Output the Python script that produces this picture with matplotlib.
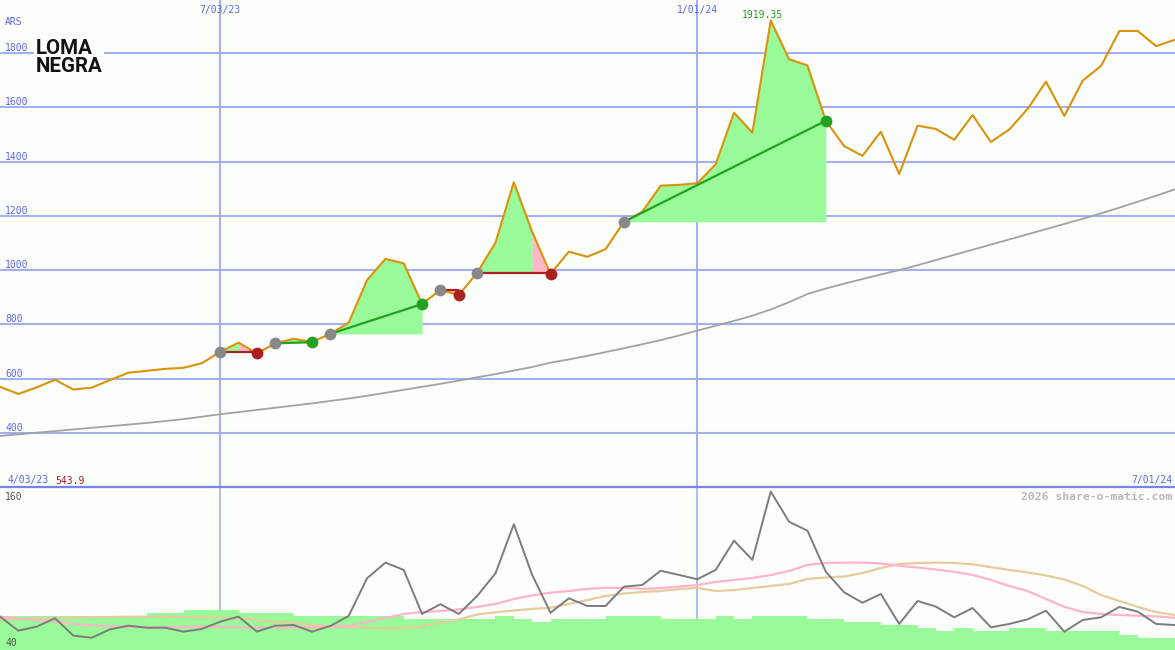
import matplotlib
matplotlib.use('Agg')
import matplotlib.pyplot as plt
import numpy as np
from matplotlib import transforms, font_manager as fm
from matplotlib.patches import Rectangle

# ---------------- data ----------------
start_label = '4/03/23'
end_label = '7/01/24'
date_labels = ['7/03/23', '1/01/24']
date_index = [12, 38]
y_ticks = [400, 600, 800, 1000, 1200, 1400, 1600, 1800]
currency = 'ARS'

price = [570, 543.9, 568, 596, 560, 567, 595, 622, 629, 636, 640, 657, 699, 733, 693,
         730, 747, 735, 765, 806, 963, 1041, 1025, 875, 927, 908, 990, 1101, 1324, 1141,
         986, 1068, 1049, 1077, 1178, 1215, 1311, 1314, 1320, 1390, 1580, 1506, 1919.35,
         1777, 1754, 1550, 1457, 1421, 1510, 1354, 1532, 1520, 1480, 1571, 1472, 1518,
         1594, 1694, 1568, 1698, 1752, 1881, 1881, 1825, 1848]

long_ma = [389, 395, 401, 407, 413, 419, 425, 431, 437, 444, 451, 460, 469, 477, 485,
           493, 501, 509, 518, 527, 537, 548, 559, 570, 581, 593, 605, 617, 630, 643,
           659, 671, 684, 698, 712, 727, 742, 759, 777, 795, 813, 832, 855, 882, 912,
           932, 950, 967, 984, 1000, 1018, 1037, 1056, 1075, 1094, 1113, 1132, 1151,
           1170, 1189, 1209, 1230, 1252, 1274, 1297]

trade_entry = [12, 15, 18, 24, 26, 34]
trade_exit = [14, 17, 23, 25, 30, 45]

# lower panel
rel = [64.7, 54.3, 57.3, 63.5, 50.6, 49.1, 55.3, 58.0, 56.5, 56.5, 53.6, 55.6, 61.0,
       64.7, 53.6, 58.0, 58.5, 53.6, 57.8, 65.2, 93.1, 104.7, 99.3, 66.7, 73.9, 66.7,
       80.0, 96.8, 133.1, 95.6, 67.6, 78.3, 72.6, 72.6, 86.9, 88.1, 98.7, 95.6, 92.4,
       99.3, 121.0, 106.7, 157.3, 135.0, 128.4, 98.0, 82.7, 75.0, 81.5, 59.3, 76.3,
       72.1, 64.2, 71.1, 56.8, 59.3, 62.7, 69.1, 53.6, 62.2, 64.2, 71.9, 68.4, 59.3, 58.5]

rel_fast = [64.7, 63.3, 62.2, 61.0, 59.3, 58.1, 57.6, 57.0, 56.8, 57.0, 57.0, 57.3, 57.0,
            56.7, 56.5, 56.5, 56.5, 56.7, 57.0, 57.8, 60.7, 63.7, 66.7, 68.1, 68.9, 70.0,
            71.9, 74.1, 77.8, 80.4, 82.4, 83.7, 85.2, 86.1, 85.9, 85.2, 85.9, 87.0, 88.1,
            90.4, 91.9, 93.3, 95.6, 98.5, 103.0, 104.4, 104.7, 104.7, 104.1, 102.4, 101.1,
            99.6, 97.8, 95.6, 91.9, 87.4, 83.7, 77.8, 71.9, 68.1, 66.7, 65.9, 65.4, 64.9, 63.9]

rel_slow = [62.2, 63.0, 63.3, 63.5, 63.9, 64.2, 64.4, 64.6, 64.7, 64.6, 64.4, 64.2, 64.1,
            63.3, 62.2, 61.1, 60.0, 58.5, 57.8, 57.0, 56.5, 56.1, 56.3, 57.4, 60.4, 62.6,
            66.3, 67.9, 69.3, 70.4, 71.3, 74.1, 77.0, 80.0, 81.8, 83.0, 83.7, 85.2, 85.9,
            83.7, 84.4, 85.9, 87.4, 88.9, 92.6, 93.7, 94.4, 97.0, 100.7, 103.7, 104.4,
            104.7, 104.4, 103.5, 101.3, 99.3, 97.4, 95.2, 92.2, 87.4, 80.7, 76.3, 71.9, 68.1, 65.9]

volume = [65.2, 65.2, 65.2, 65.2, 65.2, 65.2, 65.2, 65.2, 67.6, 67.6, 69.6, 69.6, 69.6,
          67.6, 67.6, 67.6, 65.2, 65.2, 65.2, 65.2, 65.2, 65.2, 63.0, 63.0, 63.0, 63.0,
          63.0, 65.2, 63.0, 61.0, 63.0, 63.0, 63.0, 65.2, 65.2, 65.2, 63.0, 63.0, 63.0,
          65.2, 63.0, 65.2, 65.2, 65.2, 63.0, 63.0, 60.5, 60.5, 58.3, 58.3, 56.1, 54.1,
          56.1, 54.1, 54.1, 56.1, 56.1, 54.1, 54.1, 54.1, 54.1, 51.1, 49.1, 49.1, 49.1]

lower_labels = ['160', '40']
credit = '2026 share-o-matic.com'
logo_lines = ['LOMA', 'NEGRA']

# ---------------- style ----------------
W, H = 1175, 650
bg = '#fcfefc'
grid_c = '#a4b0ee'
sep_c = '#7585ee'
lab_c = '#5a68ee'
price_c = '#da920a'
green_fill = '#98fa98'
pink_fill = '#ffb8c6'
red_c = '#aa2020'
green_c = '#22a022'
grey_c = '#888888'
mono = 'DejaVu Sans Mono'

names = {f.name for f in fm.fontManager.ttflist}
logo_font = 'Liberation Sans Narrow' if 'Liberation Sans Narrow' in names else 'Roboto'

fig = plt.figure(figsize=(W / 100, H / 100), dpi=100)
fig.patch.set_facecolor(bg)
ax = fig.add_axes([0, 163 / H, 1, 487 / H])
ax2 = fig.add_axes([0, 0, 1, 163 / H])
for a in (ax, ax2):
    a.set_axis_off()
    a.set_xlim(0, 64.03)
ax.set_ylim(201, 1995)
ax2.set_ylim(40, 160.7)

x = np.arange(len(price))
price_a = np.array(price, dtype=float)

# grid
for v in y_ticks:
    ax.axhline(v, color=grid_c, lw=1.5, zorder=1)
for d in date_index:
    ax.axvline(d, color=grid_c, lw=1.5, zorder=1)
    ax2.axvline(d, color=grid_c, lw=1.2, zorder=1)
ax2.axhline(160.7, color=sep_c, lw=1.6, zorder=1, clip_on=False)

# tick labels
bt = transforms.blended_transform_factory(ax.transAxes, ax.transData)
bt = transforms.offset_copy(bt, fig=fig, x=0, y=2, units='dots')
for v in y_ticks:
    ax.text(5 / W, v, str(v), transform=bt, fontsize=7, family=mono, color=lab_c,
            va='baseline', ha='left')
fig.text(5 / W, 1 - 25 / H, currency, fontsize=7, family=mono, color=lab_c, va='baseline')

dt = transforms.blended_transform_factory(ax.transData, fig.transFigure)
for lab, d in zip(date_labels, date_index):
    ax.text(d, 1 - 12.8 / H, lab, transform=dt, fontsize=7, family=mono, color=lab_c,
            ha='center', va='baseline')

fig.text(7 / W, 1 - 483.5 / H, start_label, fontsize=7, family=mono, color=lab_c, va='baseline')
fig.text(55 / W, 1 - 483.5 / H, f'{min(price):g}', fontsize=7, family=mono, color=red_c,
         va='baseline')
fig.text(1172.5 / W, 1 - 483.5 / H, end_label, fontsize=7, family=mono, color=lab_c,
         va='baseline', ha='right')

# logo (background patch hides the gridline behind it)
fig.patches.append(Rectangle((34 / W, 1 - 75 / H), 70 / W, 41 / H, transform=fig.transFigure,
                             facecolor=bg, edgecolor='none', zorder=2))
fig.text(36 / W, 1 - 53.5 / H, logo_lines[0], fontsize=14.8, family=logo_font, weight='bold',
         color='#111111', va='baseline', zorder=3)
fig.text(36 / W, 1 - 72 / H, logo_lines[1], fontsize=14.8, family=logo_font, weight='bold',
         color='#111111', va='baseline', zorder=3)

# trades fills
for e, xx in zip(trade_entry, trade_exit):
    ep, xp = price_a[e], price_a[xx]
    loss = xp < ep
    seg_end = xx - 1 if loss else xx
    if seg_end > e:
        ax.fill_between(x[e:seg_end + 1], price_a[e:seg_end + 1], ep, color=green_fill,
                        lw=0, zorder=2)
    if loss:
        ax.fill_between(x[xx - 1:xx + 1], price_a[xx - 1:xx + 1], ep, color=pink_fill,
                        lw=0, zorder=2)

# long MA and price
ax.plot(x, long_ma, color='#a2a2a2', lw=1.3, zorder=3)
ax.plot(x, price_a, color=price_c, lw=1.5, zorder=4)

for e, xx in zip(trade_entry, trade_exit):
    ep, xp = price_a[e], price_a[xx]
    loss = xp < ep
    if loss:
        ax.plot([e, xx], [ep, ep], color=red_c, lw=1.6, zorder=5, solid_capstyle='butt')
    else:
        ax.plot([e, xx], [ep, xp], color=green_c, lw=1.6, zorder=5, solid_capstyle='butt')
    ax.plot(e, ep, 'o', ms=8.5, color=grey_c, mec='none', zorder=6)
    ax.plot(xx, xp, 'o', ms=8.5, color=red_c if loss else green_c, mec='none', zorder=6)

# high label
imax = int(np.argmax(price_a))
pt = transforms.offset_copy(ax.transData, fig=fig, x=-8, y=3, units='dots')
ax.text(x[imax], price_a[imax], f'{price_a[imax]:g}', transform=pt, fontsize=7,
        family=mono, color=green_c, ha='center', va='baseline', zorder=7)

# lower panel
ax2.bar(x, np.array(volume) - 40, bottom=40, width=1, align='edge', color=green_fill,
        lw=0, zorder=2)
ax2.plot(x, rel_slow, color='#e6cc9c', lw=1.6, zorder=3)
ax2.plot(x, rel_fast, color='#ffb4c8', lw=1.6, zorder=3)
ax2.plot(x, rel, color='#7c7c7c', lw=1.4, zorder=4)

fig.text(5 / W, 1 - 500 / H, lower_labels[0], fontsize=7, family=mono, color='#555555',
         va='baseline')
fig.text(5 / W, 1 - 645.5 / H, lower_labels[1], fontsize=7, family=mono, color='#555555',
         va='baseline')
fig.text(1172.5 / W, 1 - 500 / H, credit, fontsize=8.2, family=mono, weight='bold',
         color='#b8b8b8', ha='right', va='baseline')

fig.savefig('out.png', dpi=100, facecolor=bg)
